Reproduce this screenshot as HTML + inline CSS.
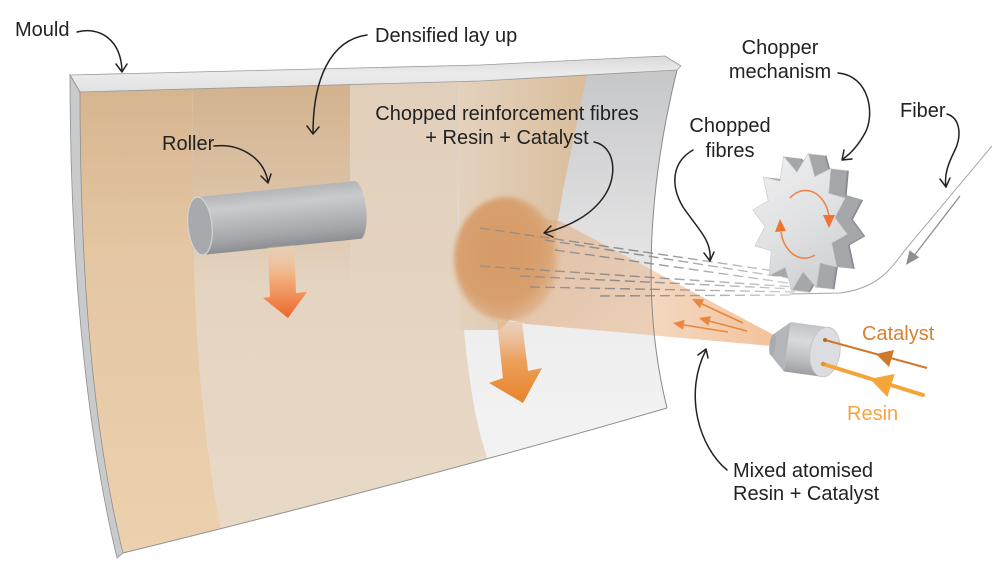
<!DOCTYPE html>
<html><head><meta charset="utf-8"><style>
html,body{margin:0;padding:0;background:#fff;}
svg{display:block;}
text{font-family:"Liberation Sans",Arial,sans-serif;font-size:20px;fill:#222;}
</style></head><body>
<svg width="992" height="583" viewBox="0 0 992 583" xmlns="http://www.w3.org/2000/svg">
<defs>
<clipPath id="cin"><path d="M80,92 L480,81 L677,70 C650,180 640,300 667,408 Q420,480 123,553 C90,420 80,250 80,92 Z"/></clipPath>
<linearGradient id="gBase" gradientUnits="userSpaceOnUse" x1="0" y1="70" x2="0" y2="420">
<stop offset="0" stop-color="#c6c7c9"/><stop offset="0.45" stop-color="#e0e0e1"/><stop offset="0.75" stop-color="#eeeeee"/><stop offset="1" stop-color="#f2f2f2"/></linearGradient>
<linearGradient id="gA" gradientUnits="userSpaceOnUse" x1="0" y1="90" x2="0" y2="550">
<stop offset="0" stop-color="#d6b690"/><stop offset="0.35" stop-color="#e4c6a2"/><stop offset="1" stop-color="#ecd1ae"/></linearGradient>
<linearGradient id="gB" gradientUnits="userSpaceOnUse" x1="0" y1="90" x2="0" y2="550">
<stop offset="0" stop-color="#e1cfbb"/><stop offset="1" stop-color="#e9dac8"/></linearGradient>
<linearGradient id="gBt" gradientUnits="userSpaceOnUse" x1="0" y1="90" x2="0" y2="285">
<stop offset="0" stop-color="#d2b08a" stop-opacity="0.9"/><stop offset="0.5" stop-color="#d6b794" stop-opacity="0.6"/><stop offset="1" stop-color="#d8bc9c" stop-opacity="0"/></linearGradient>
<linearGradient id="gC" gradientUnits="userSpaceOnUse" x1="457" y1="0" x2="590" y2="0">
<stop offset="0" stop-color="#e4d2be"/><stop offset="1" stop-color="#d9bd9b"/></linearGradient>
<linearGradient id="gRim" gradientUnits="userSpaceOnUse" x1="0" y1="56" x2="0" y2="92">
<stop offset="0" stop-color="#d9d9da"/><stop offset="0.5" stop-color="#ebebeb"/><stop offset="1" stop-color="#e2e2e3"/></linearGradient>
<linearGradient id="gCone" gradientUnits="userSpaceOnUse" x1="470" y1="0" x2="772" y2="0">
<stop offset="0" stop-color="#dca170" stop-opacity="0.55"/><stop offset="0.6" stop-color="#e8b081" stop-opacity="0.5"/><stop offset="1" stop-color="#f0b07a" stop-opacity="0.75"/></linearGradient>
<radialGradient id="gCirc" cx="0.45" cy="0.45" r="0.55">
<stop offset="0" stop-color="#d59a66"/><stop offset="0.75" stop-color="#d8a06f"/><stop offset="1" stop-color="#dcab80" stop-opacity="0.7"/></radialGradient>
<filter id="blur" x="-20%" y="-20%" width="140%" height="140%"><feGaussianBlur stdDeviation="2.5"/></filter>
<linearGradient id="gRA" gradientUnits="userSpaceOnUse" x1="0" y1="246" x2="0" y2="318">
<stop offset="0" stop-color="#f3cfae" stop-opacity="0.3"/><stop offset="0.45" stop-color="#f2ad7a"/><stop offset="1" stop-color="#ec672a"/></linearGradient>
<linearGradient id="gCA" gradientUnits="userSpaceOnUse" x1="0" y1="318" x2="0" y2="403">
<stop offset="0" stop-color="#e8b48a" stop-opacity="0.4"/><stop offset="0.5" stop-color="#eca05c"/><stop offset="1" stop-color="#e8822a"/></linearGradient>
<linearGradient id="gRoll" gradientUnits="userSpaceOnUse" x1="0" y1="197" x2="0" y2="255">
<stop offset="0" stop-color="#b3b5b8"/><stop offset="0.25" stop-color="#c9cbcd"/><stop offset="0.55" stop-color="#b4b6b9"/><stop offset="0.8" stop-color="#a2a4a7"/><stop offset="1" stop-color="#8c8e92"/></linearGradient>
<linearGradient id="gNoz" gradientUnits="userSpaceOnUse" x1="0" y1="327" x2="0" y2="377">
<stop offset="0" stop-color="#c2c3c5"/><stop offset="0.35" stop-color="#d9dadc"/><stop offset="0.75" stop-color="#b9bbbd"/><stop offset="1" stop-color="#9c9ea1"/></linearGradient>
<linearGradient id="gGear" gradientUnits="userSpaceOnUse" x1="760" y1="155" x2="845" y2="290">
<stop offset="0" stop-color="#efeff0"/><stop offset="0.5" stop-color="#e0e1e2"/><stop offset="1" stop-color="#cbccce"/></linearGradient>
<linearGradient id="gDash" gradientUnits="userSpaceOnUse" x1="460" y1="0" x2="800" y2="0">
<stop offset="0" stop-color="#8a8a8a" stop-opacity="0.6"/><stop offset="0.5" stop-color="#7f8083" stop-opacity="0.9"/><stop offset="1" stop-color="#a0a0a0" stop-opacity="0.5"/></linearGradient>
<path id="gs" d="M808.3,153.1 L814.8,176.7 L830.9,168.4 L828.7,193.3 L845.1,198.1 L834.9,217.6 L847.3,234.2 L831.7,243.1 L836.8,267 L820.1,263 L816.4,287.8 L803.1,271.8 L791.7,290.9 L785.2,267.3 L769.1,275.6 L771.3,250.7 L754.9,245.9 L765.1,226.4 L752.7,209.8 L768.3,200.9 L763.2,177 L779.9,181 L783.6,156.2 L796.9,172.2 Z"/>
</defs>

<!-- Mould inner surface -->
<g clip-path="url(#cin)">
<rect x="60" y="50" width="640" height="520" fill="url(#gBase)"/>
<path d="M60,50 L193,50 L193,85 C190,250 195,420 228,560 L60,600 Z" fill="url(#gA)"/>
<path d="M193,50 L457,50 L457,75 C455,250 462,400 492,470 L228,560 C195,420 190,250 193,85 Z" fill="url(#gB)"/>
<path d="M193,50 L350,50 L350,285 L191,285 L193,85 Z" fill="url(#gBt)"/>
<path d="M457,50 L592,50 L563,190 L548,280 L500,330 L460,330 L457,75 Z" fill="url(#gC)"/>
</g>

<!-- Spray cone -->
<path d="M772,334 L560,221 L505,214 L470,250 L490,315 L527,324 L772,346 Z" fill="url(#gCone)"/>
<!-- Spray circle -->
<ellipse cx="506" cy="259" rx="52" ry="62" fill="url(#gCirc)" filter="url(#blur)"/>

<!-- Dashes (chopped fibres) -->
<g stroke="url(#gDash)" stroke-width="1.4" stroke-dasharray="10 5" fill="none">
<line x1="480" y1="228" x2="795" y2="274"/>
<line x1="545" y1="240" x2="795" y2="279"/>
<line x1="555" y1="250" x2="795" y2="284"/>
<line x1="480" y1="266" x2="795" y2="287"/>
<line x1="520" y1="276" x2="795" y2="289"/>
<line x1="530" y1="287" x2="795" y2="292"/>
<line x1="600" y1="296" x2="795" y2="295"/>
</g>

<!-- Rims and edges -->
<path d="M70,75 L480,65 L665,56 L681,66 L677,70 L480,81 L80,92 Z" fill="url(#gRim)" stroke="#9a9a9b" stroke-width="0.8"/>
<path d="M70,75 L80,92 C80,250 90,420 123,553 L117,558 C84,420 70,250 70,75 Z" fill="#c9cacc" stroke="#8e8f91" stroke-width="0.8"/>
<path d="M677,70 C650,180 640,300 667,408" fill="none" stroke="#8a8a8b" stroke-width="1"/>
<path d="M667,408 Q420,480 123,553" fill="none" stroke="#8f8f8f" stroke-width="1"/>

<!-- Roller -->
<g transform="rotate(-5.8 200 226)">
<path d="M200,197 L358,197 A9,29 0 0 1 358,255 L200,255 Z" fill="url(#gRoll)"/>
<ellipse cx="200" cy="226" rx="12" ry="29" fill="#a7a9ac" stroke="#d3d4d6" stroke-width="1.2"/>
</g>

<!-- Big orange arrows -->
<path d="M268,247 L294,245 L296,293 L307,292 L288,318 L263,298 L270,297 Z" fill="url(#gRA)"/>
<path d="M497,322 L522,322 L528,371 L542,368 L523,403 L489,383 L503,378 Z" fill="url(#gCA)"/>

<!-- Small orange spray arrows -->
<g stroke="#e8873d" stroke-width="1.6" fill="none">
<line x1="743" y1="323" x2="702" y2="304"/>
<line x1="747" y1="331" x2="709" y2="321"/>
<line x1="728" y1="332" x2="684" y2="325"/>
</g>
<g fill="#e8873d">
<polygon points="692,299 704.1,299.2 699.9,308.2"/>
<polygon points="699,318 710.9,316.1 708.3,325.7"/>
<polygon points="673,323 684.7,319.9 683.1,329.7"/>
</g>

<!-- Fiber line -->
<path d="M992,146 L905,250 C890,270 878,288 840,293 L790,294" fill="none" stroke="#a5a5a5" stroke-width="1"/>
<line x1="960" y1="196" x2="913" y2="257" stroke="#8e8e8e" stroke-width="1.3"/>
<polygon points="906,265 919.2,257.4 909.6,250.2" fill="#8e8e8e"/>

<!-- Gear -->
<g fill="#a5a7aa">
<use href="#gs" transform="translate(18,2)" fill="#86888b"/>
<use href="#gs" transform="translate(17,1.9)" fill="#8f9194"/>
<use href="#gs" transform="translate(16,1.8)"/>
<use href="#gs" transform="translate(15,1.7)"/>
<use href="#gs" transform="translate(14,1.6)"/>
<use href="#gs" transform="translate(13,1.4)"/>
<use href="#gs" transform="translate(12,1.3)"/>
<use href="#gs" transform="translate(11,1.2)"/>
<use href="#gs" transform="translate(10,1.1)"/>
<use href="#gs" transform="translate(9,1)"/>
<use href="#gs" transform="translate(8,0.9)"/>
<use href="#gs" transform="translate(7,0.8)"/>
<use href="#gs" transform="translate(6,0.7)"/>
<use href="#gs" transform="translate(5,0.6)"/>
<use href="#gs" transform="translate(4,0.4)"/>
<use href="#gs" transform="translate(3,0.3)"/>
<use href="#gs" transform="translate(2,0.2)"/>
<use href="#gs" transform="translate(1,0.1)"/>
</g>
<use href="#gs" fill="url(#gGear)" stroke="#c4c5c7" stroke-width="0.6"/>
<g stroke="#ef7b3a" stroke-width="1.6" fill="none" opacity="0.9">
<path d="M790,198 A24,32 0 0 1 829,216"/>
<path d="M815,255 A24,32 0 0 1 781,232"/>
</g>
<polygon points="823,215 835,215 829,228" fill="#ef7330"/>
<polygon points="775,232 786,231 780,219" fill="#ef7330"/>

<!-- Nozzle -->
<g transform="rotate(8 825 352)">
<path d="M772,341 L787,327 L787,377 L772,363 Z" fill="#b3b5b8"/>
<ellipse cx="772" cy="352" rx="3" ry="11" fill="#a9abae"/>
<rect x="787" y="327" width="38" height="50" fill="url(#gNoz)"/>
<ellipse cx="825" cy="352" rx="15" ry="25" fill="#dcdde0" stroke="#c2c3c5" stroke-width="0.8"/>
</g>

<!-- Catalyst / Resin feeds -->
<line x1="825" y1="340" x2="927" y2="368" stroke="#d0782a" stroke-width="2"/>
<circle cx="825" cy="340" r="2" fill="#b8691f"/>
<polygon points="876,354 889,367 894,350" fill="#d0782a"/>
<line x1="823" y1="364" x2="923" y2="395" stroke="#f4a53a" stroke-width="4" stroke-linecap="round"/>
<circle cx="823" cy="364" r="2.2" fill="#e3922c"/>
<polygon points="870,379 887.4,397 894.6,374" fill="#f4a53a"/>

<!-- Black callout arrows -->
<g stroke="#222" stroke-width="1.5" fill="none" stroke-linecap="round" stroke-linejoin="round">
<path d="M77,32 C100,26 121,40 122,71"/><path d="M116,64 L122,72 L127,64"/>
<path d="M367,35 C330,40 313,80 313,133"/><path d="M307,126 L313,134 L319,127"/>
<path d="M214,146 C240,143 264,158 268,182"/><path d="M261,176 L268,183 L271,174"/>
<path d="M594,142 C615,146 618,175 605,195 C592,215 570,226 545,233"/><path d="M551,226 L544,233 L553,237"/>
<path d="M693,150 C672,162 670,185 683,207 C697,228 712,240 710,260"/><path d="M704,253 L710,261 L714,252"/>
<path d="M838,73 C870,76 875,115 865,133 C858,146 850,154 843,159"/><path d="M844,150 L842,160 L852,159"/>
<path d="M947,114 C960,118 962,135 955,150 C948,164 944,175 946,187"/><path d="M940,179 L946,187 L950,178"/>
<path d="M727,470 C700,448 683,395 706,350"/><path d="M698,355 L706,349 L708,358"/>
</g>

<!-- Labels -->
<text x="15" y="36">Mould</text>
<text x="375" y="42">Densified lay up</text>
<text x="162" y="150">Roller</text>
<text x="507" y="120" text-anchor="middle">Chopped reinforcement fibres</text>
<text x="507" y="144" text-anchor="middle">+ Resin + Catalyst</text>
<text x="780" y="54" text-anchor="middle">Chopper</text>
<text x="780" y="78" text-anchor="middle">mechanism</text>
<text x="900" y="117">Fiber</text>
<text x="730" y="132" text-anchor="middle">Chopped</text>
<text x="730" y="157" text-anchor="middle">fibres</text>
<text x="862" y="340" style="fill:#d8812f">Catalyst</text>
<text x="847" y="420" style="fill:#f5a540">Resin</text>
<text x="733" y="477">Mixed atomised</text>
<text x="733" y="500">Resin + Catalyst</text>
</svg>
</body></html>
